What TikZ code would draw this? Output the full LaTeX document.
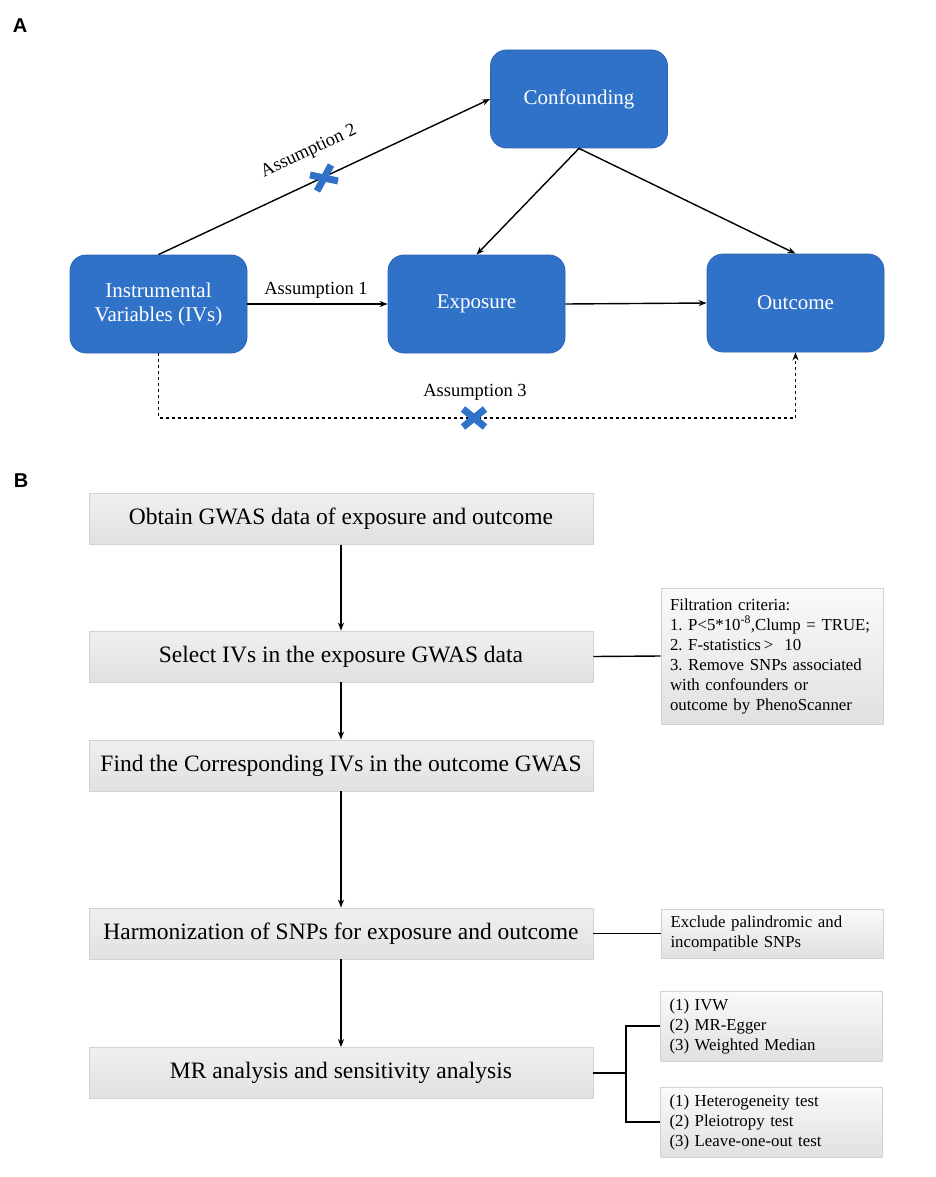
\documentclass[tikz,border=0pt]{standalone}
\usepackage{fontspec}
\setmainfont{Liberation Serif}
\newfontfamily\labelfont{Liberation Sans}
\usetikzlibrary{arrows.meta}
\definecolor{boxblue}{RGB}{49,114,201}
\definecolor{boxedge}{RGB}{44,98,178}
\frenchspacing
\begin{document}
\begin{tikzpicture}[x=1pt,y=-1pt,
  bluebox/.style={draw=boxedge,line width=0.8pt,fill=boxblue,rounded corners=16pt,
    minimum width=177pt,minimum height=98pt,text=white,align=center,
    font=\fontsize{21}{24}\selectfont},
  flowbox/.style={draw=gray!35,line width=0.8pt,top color=gray!12,middle color=gray!2,bottom color=gray!24,
    minimum width=504pt,minimum height=51pt,font=\fontsize{23.5}{26}\selectfont},
  sidebox/.style={draw=gray!35,line width=0.8pt,top color=gray!4,bottom color=gray!24,
    minimum width=222pt,align=left,text width=204pt,inner xsep=9pt,inner ysep=0pt,
    font=\fontsize{16.8}{20}\selectfont},
  conn/.style={line width=1.4pt,-{Stealth[length=8pt,width=6pt]}},
  plainline/.style={line width=1.4pt},
  asm/.style={font=\fontsize{18.5}{22}\selectfont},
  crossmark/.style={draw=boxblue,line width=7pt},
  panel/.style={font=\labelfont\bfseries\fontsize{20}{24}\selectfont}
]
\useasboundingbox (0,0) rectangle (935,1177);

% ---------- Panel A ----------
\node[panel] (la) at (20,26) {A};
\node[bluebox] (conf) at (579,99) {Confounding};
\node[bluebox] (ivs) at (158.5,304) {Instrumental\\Variables (IVs)};
\node[bluebox] (expo) at (476.5,304) {Exposure};
\node[bluebox] (outc) at (795.5,303) {Outcome};

\draw[conn] (ivs.north) -- (conf.west);
\draw[conn] (conf.south) -- (expo.north);
\draw[conn] (conf.south) -- (outc.north);
\draw[conn] (ivs.east) -- (expo.west);
\draw[conn] (expo.east) -- (outc.west);

\coordinate (dl) at (158.5,418);
\draw[line width=1.4pt,dashed,-{Stealth[length=8pt,width=6pt]}]
  (ivs.south) -- (ivs.south |- dl) -- (outc.south |- dl) -- (outc.south);

\node[asm] (a1) at (316,290) {Assumption 1};
\node[asm,rotate=25] (a2) at (309,152) {Assumption 2};
\node[asm] (a3) at (475,392) {Assumption 3};

% crosses
\draw[crossmark] (317,191) -- (331,165);
\draw[crossmark] (310,175) -- (338,181);
\draw[crossmark] (463,409) -- (485,427);
\draw[crossmark] (463,427) -- (485,409);

% ---------- Panel B ----------
\node[panel] (lb) at (21,481) {B};
\node[flowbox] (b1) at (341,519) {Obtain GWAS data of exposure and outcome};
\node[flowbox] (b2) at (341,656.5) {Select IVs in the exposure GWAS data};
\node[flowbox] (b3) at (341,765.5) {Find the Corresponding IVs in the outcome GWAS};
\node[flowbox] (b4) at (341,933.5) {Harmonization of SNPs for exposure and outcome};
\node[flowbox] (b5) at (341,1073) {MR analysis and sensitivity analysis};

\draw[conn] (b1.south) -- (b2.north);
\draw[conn] (b2.south) -- (b3.north);
\draw[conn] (b3.south) -- (b4.north);
\draw[conn] (b4.south) -- (b5.north);

\node[sidebox,minimum height=136pt] (filt) at (772,656)
  {Filtration criteria:\\
   1. P{<}5*10\textsuperscript{-8},Clump = TRUE;\\
   2. F-statistics\,{>}\ \ 10\\
   3. Remove SNPs associated\\
   with confounders or\\
   outcome by PhenoScanner};
\node[sidebox,minimum height=49pt] (excl) at (772.5,933.5)
  {Exclude palindromic and\\incompatible SNPs};
\node[sidebox,minimum height=70pt] (ivw) at (771.5,1026)
  {(1) IVW\\(2) MR-Egger\\(3) Weighted Median};
\node[sidebox,minimum height=70pt] (het) at (771.5,1122)
  {(1) Heterogeneity test\\(2) Pleiotropy test\\(3) Leave-one-out test};

\draw[plainline] (b2.east) -- (filt.west);
\draw[plainline] (b4.east) -- (excl.west);
\coordinate (br) at (626,1073);
\draw[plainline] (b5.east) -- (br);
\draw[plainline] (br) |- (ivw.west);
\draw[plainline] (br) |- (het.west);
\end{tikzpicture}
\end{document}
